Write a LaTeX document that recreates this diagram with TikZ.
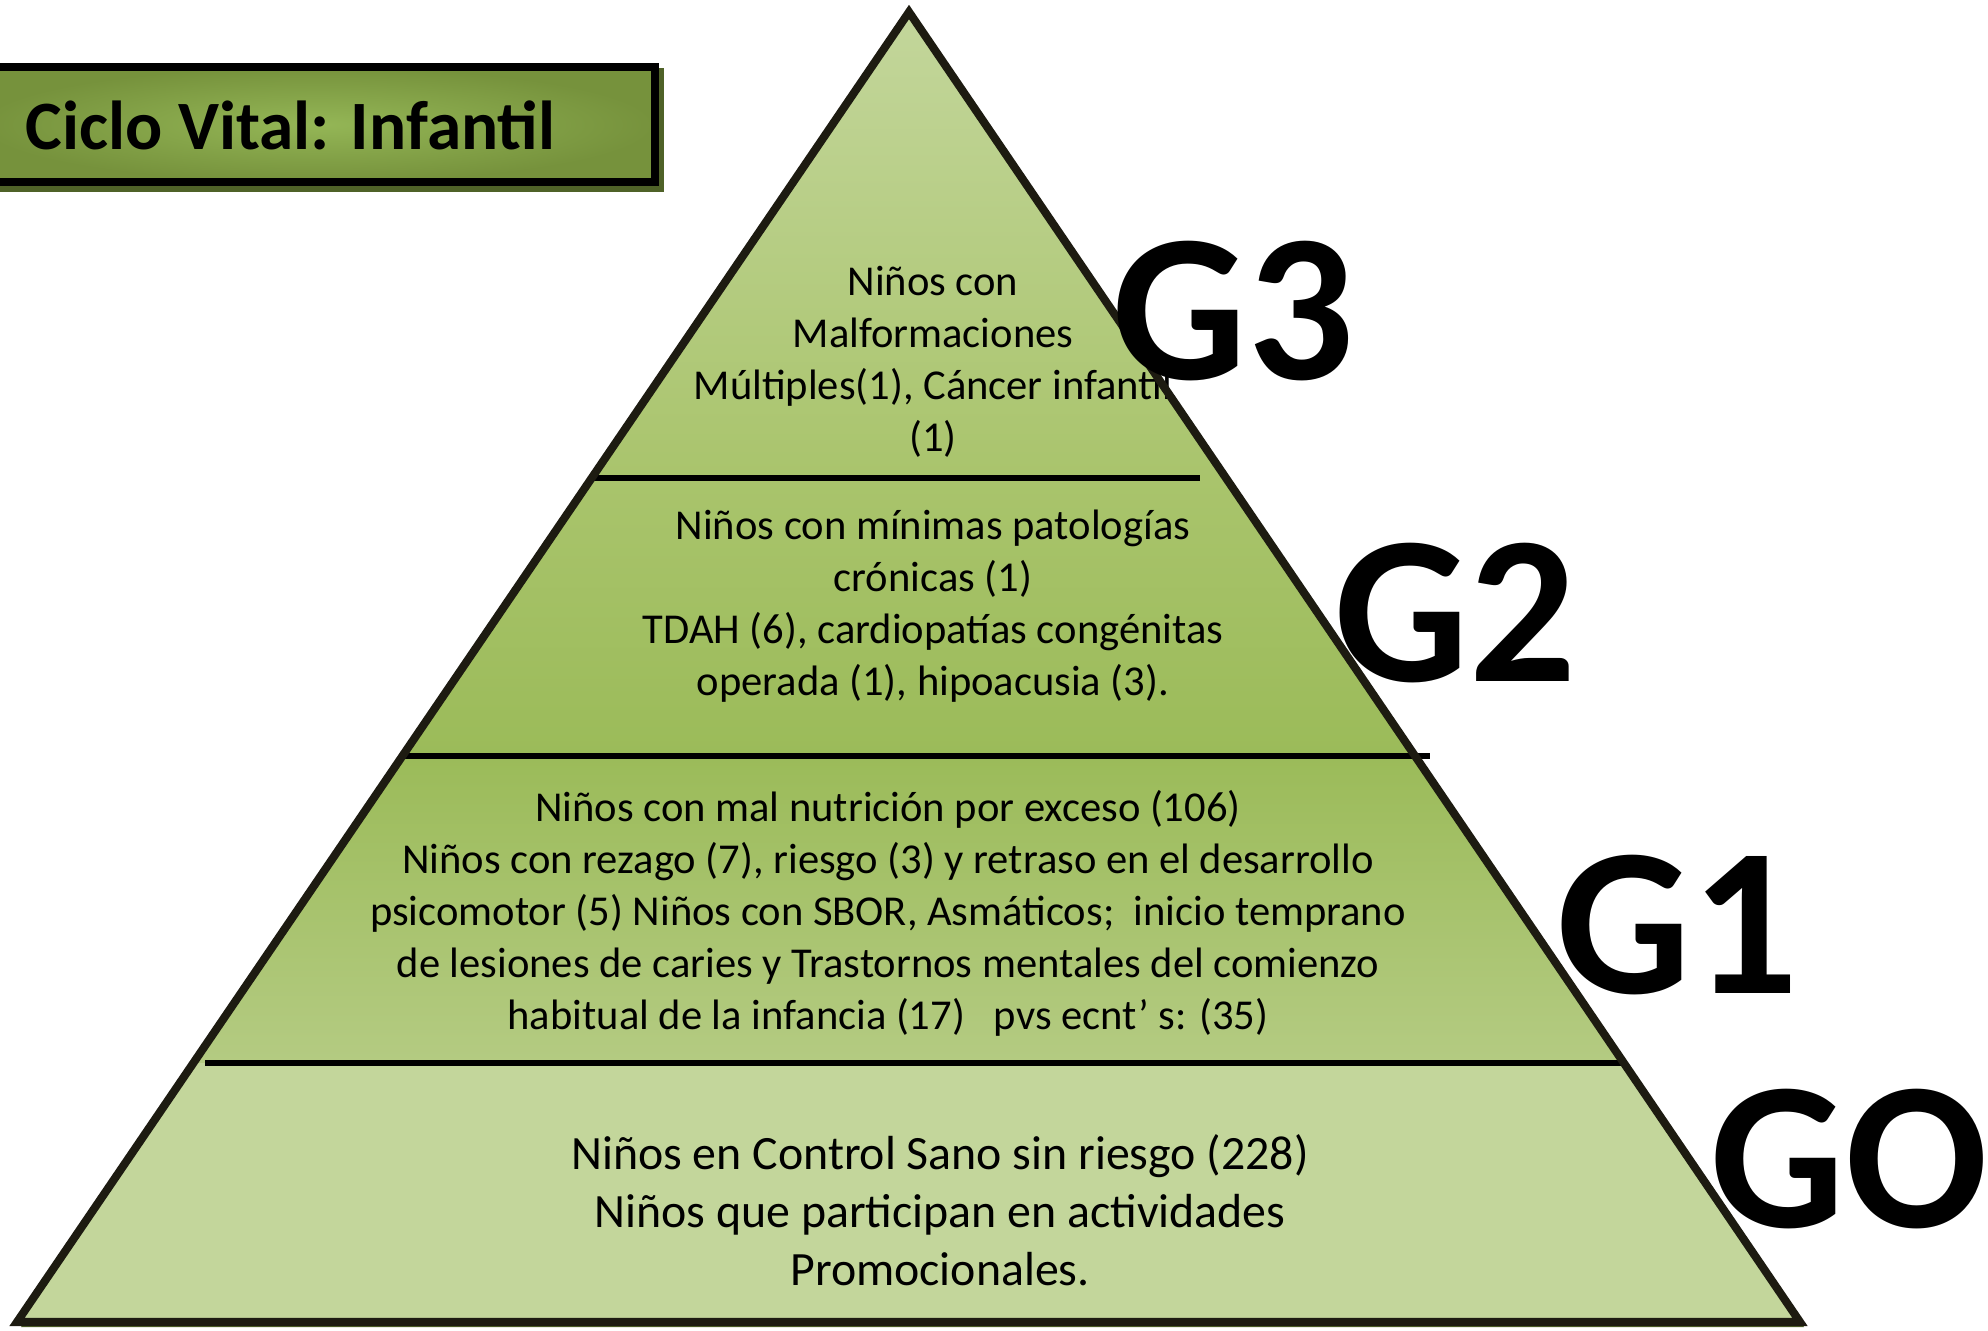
\documentclass[tikz,border=0pt]{standalone}
\usepackage{fontspec}
\setmainfont{Carlito}
\usepackage{tikz}

\definecolor{paleolive}{HTML}{C3D69B}
\definecolor{midolive}{HTML}{A9C46C}
\definecolor{olive}{HTML}{9BBB59}
\definecolor{lightband}{HTML}{B4CB82}
\definecolor{darkolive}{HTML}{76923C}
\definecolor{brightolive}{HTML}{94B656}
\definecolor{shadowolive}{HTML}{4F6228}
\definecolor{edgecolor}{HTML}{1D1B11}

\begin{document}
\begin{tikzpicture}[x = 0.01cm, y = -0.01cm,
                        edgeline/.style = {draw = edgecolor, line width = 2.3pt, line join = miter},
                        divider/.style = {draw = black, line width = 1.45pt},
                        bandtext/.style = {align = center, inner sep = 0pt, font = \fontsize{12.1}{14.8}\selectfont},
                        basetext/.style = {align = center, inner sep = 0pt, font = \fontsize{13.6}{16.5}\selectfont},
                        level/.style = {anchor = base west, inner sep = 0pt, font = \fontsize{60}{60}\selectfont\bfseries}]
      \useasboundingbox (0, 0) rectangle (1988, 1331);

      % pyramid corners and divider ends
      \coordinate (top) at (909, 12);
      \coordinate (bl) at (17, 1322);
      \coordinate (br) at (1800, 1322);
      \coordinate (e1l) at (592, 478);
      \coordinate (e1r) at (1226, 478);
      \coordinate (e2l) at (402, 756);
      \coordinate (e2r) at (1415, 756);
      \coordinate (e3l) at (193, 1063);
      \coordinate (e3r) at (1624, 1063);
      \coordinate (d1r) at (1200, 478);
      \coordinate (d2r) at (1430, 756);
      \coordinate (d3l) at (205, 1063);
      \coordinate (d3r) at (1622, 1063);

      % title box
      \fill [shadowolive] (-20, 68) rectangle (664, 192);
      \shade [inner color = brightolive, outer color = darkolive] (-20, 67) rectangle (655, 182);
      \draw [black, line width = 2.3pt] (-20, 67) rectangle (655, 182);
      \node [anchor = base west, inner sep = 0pt, font = \fontsize{19.7}{19.7}\selectfont\bfseries] (title) at (25, 150) {Ciclo Vital: Infantil};

      % pyramid bands
      \fill [shadowolive] (913, 17) -- (21, 1327) -- (1804, 1327) -- cycle;
      \shade [top color = paleolive, bottom color = midolive] (top) -- (e1l) -- (e1r) -- cycle;
      \shade [top color = midolive, bottom color = olive] (e1l) -- (e2l) -- (e2r) -- (e1r) -- cycle;
      \shade [top color = olive, bottom color = lightband] (e2l) -- (e3l) -- (e3r) -- (e2r) -- cycle;
      \fill [paleolive] (e3l) -- (bl) -- (br) -- (e3r) -- cycle;

      \draw [divider] (e1l) -- (d1r);
      \draw [divider] (e2l) -- (d2r);
      \draw [divider] (d3l) -- (d3r);

      \node [bandtext] (g3text) at (933, 362) {Niños con\\Malformaciones\\Múltiples(1), Cáncer infantil\\(1)};
      \node [bandtext] (g2text) at (933, 606) {Niños con mínimas patologías\\crónicas (1)\\TDAH (6), cardiopatías congénitas\\operada (1), hipoacusia (3).};
      \node [bandtext] (g1text) at (888, 913) {Niños con mal nutrición por exceso (106)\\Niños con rezago (7), riesgo (3) y retraso en el desarrollo\\psicomotor (5) Niños con SBOR, Asmáticos;\ \ inicio temprano\\de lesiones de caries y Trastornos mentales del comienzo\\habitual de la infancia (17)\ \ \ pvs ecnt’ s: (35)};
      \node [basetext] (g0text) at (940, 1210) {Niños en Control Sano sin riesgo (228)\\Niños que participan en actividades\\Promocionales.};

      \draw [edgeline] (top) -- (bl) -- (br) -- cycle;

      % level labels
      \node [level] (g3) at (1112, 380) {G3};
      \node [level] (g2) at (1334, 682) {G2};
      \node [level] (g1) at (1556, 993) {G1};
      \node [level] (g0) at (1710, 1227) {GO};
      \end{tikzpicture}
\end{document}
